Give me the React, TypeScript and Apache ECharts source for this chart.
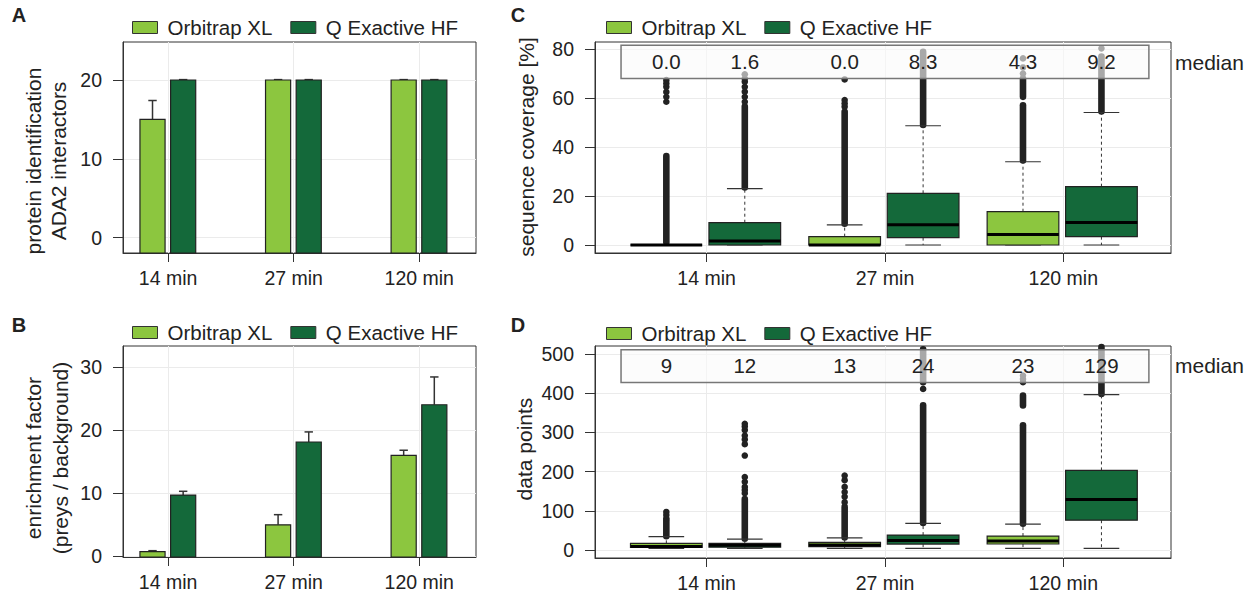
import React, { useEffect, useRef } from 'react';
import * as echarts from 'echarts';

// ---------------- data ----------------
const categories = ['14 min', '27 min', '120 min'];
const instruments = ['Orbitrap XL', 'Q Exactive HF'];
const instrumentColors = ['#8cc63f', '#14693a'];

// Panel A: protein identification of ADA2 interactors (mean, upper error bar)
const idOrbitrap = [15, 20, 20];
const idOrbitrapErr = [17.4, 20.05, 20.05];
const idQExactive = [20, 20, 20];
const idQExactiveErr = [20.05, 20.05, 20.05];

// Panel B: enrichment factor (mean, upper error bar)
const efOrbitrap = [0.75, 5.0, 16.0];
const efOrbitrapErr = [0.9, 6.6, 16.8];
const efQExactive = [9.7, 18.1, 24.0];
const efQExactiveErr = [10.3, 19.7, 28.4];

// Panel C: sequence coverage [%] box stats [lowWhisker, q1, median, q3, highWhisker]
const covOrbitrap = [
  [0, 0, 0, 0, 0],
  [0, 0, 0, 3.4, 8.2],
  [0, 0, 4.3, 13.6, 34],
];
const covQExactive = [
  [0, 0, 1.6, 9.1, 23],
  [0, 3.0, 8.3, 21.1, 48.7],
  [0, 3.4, 9.2, 23.8, 54.1],
];
// dense outlier streaks [from, to] and single outliers
const covOrbitrapRuns = [[[1, 36.3]], [[8.7, 54.4]], [[34.5, 57.1], [60.5, 68]]];
const covOrbitrapPoints = [[58.5, 60.5, 62.5, 64.6, 66, 67.3], [56.5, 57.8, 59.2, 67.6], [70, 72.5, 76.2]];
const covQExactiveRuns = [[[23.5, 56.5]], [[49, 78.9]], [[54.5, 77]]];
const covQExactivePoints = [[58.5, 60.5, 62.6, 64.6, 66.7, 68, 69.7], [], [80.3]];

// Panel D: data points box stats [lowWhisker, q1, median, q3, highWhisker]
const dpOrbitrap = [
  [4, 6.8, 9, 17, 34],
  [4, 8.5, 13, 19.6, 31],
  [4.2, 15.3, 23, 35.6, 66],
];
const dpQExactive = [
  [4, 7, 12, 17, 28],
  [4, 15, 24, 38, 68],
  [4.2, 76, 129, 203, 396.6],
];
const dpOrbitrapRuns = [[[35, 76]], [[32, 110]], [[67, 318], [368.6, 394]]];
const dpOrbitrapPoints = [[81, 89, 97], [122, 136, 148, 161, 178, 190], [428, 436, 445]];
const dpQExactiveRuns = [[[29, 130]], [[69, 369], [428, 512]], [[398, 518]]];
const dpQExactivePoints = [[145, 153, 161, 174, 186, 241, 270, 282, 292, 306, 315, 322], [411], []];

// ---------------- styling ----------------
const FONT = '"Liberation Sans", Arial, Helvetica, sans-serif';
const TEXT = '#222';
const GRIDLINE = '#ebebeb';

const BAR_OFFSETS = [-0.124, 0.12];
const BAR_WIDTH = 0.2;
const ERR_CAP = 0.067;
const BOX_OFFSETS = [-0.226, 0.214];
const BOX_WIDTH = 0.402;
const BOX_CAP = 0.2;

function xAxis(gridIndex: number, min: number, max: number) {
  return {
    type: 'value', gridIndex, min, max, position: 'bottom',
    axisLine: { show: true, onZero: false, lineStyle: { color: '#333', width: 1 } },
    axisTick: { show: true, length: 9, customValues: [1, 2, 3], lineStyle: { color: '#333', width: 1 } },
    axisLabel: {
      customValues: [1, 2, 3],
      formatter: (v: number) => categories[Math.round(v) - 1] ?? '',
      margin: 15, fontSize: 19.5, color: TEXT, fontFamily: FONT,
    },
    splitLine: { show: true, lineStyle: { color: GRIDLINE, width: 1 } },
  };
}

function yAxis(gridIndex: number, min: number, max: number, ticks: number[]) {
  return {
    type: 'value', gridIndex, min, max, position: 'left',
    axisLine: { show: true, onZero: false, lineStyle: { color: '#333', width: 1 } },
    axisTick: { show: true, length: 10, customValues: ticks, lineStyle: { color: '#333', width: 1 } },
    axisLabel: { customValues: ticks, margin: 21, fontSize: 19.5, color: TEXT, fontFamily: FONT },
    splitLine: { show: true, lineStyle: { color: GRIDLINE, width: 1 } },
  };
}

function barSeries(k: number, values: number[], errs: number[], axis: number) {
  const color = instrumentColors[k];
  return {
    type: 'custom', name: instruments[k], xAxisIndex: axis, yAxisIndex: axis, z: 3,
    itemStyle: { color, borderColor: '#222', borderWidth: 1 },
    data: values.map((v, i) => [i + 1, v, errs[i]]),
    renderItem: (params: any, api: any) => {
      const x = api.value(0) + BAR_OFFSETS[k];
      const top = api.coord([x, api.value(1)]);
      const err = api.coord([x, api.value(2)]);
      const cs = params.coordSys;
      const bottom = cs.y + cs.height;
      const half = api.size([BAR_WIDTH, 0])[0] / 2;
      const capHalf = api.size([ERR_CAP, 0])[0] / 2;
      const ls = { stroke: '#333', lineWidth: 1.5 };
      return {
        type: 'group',
        children: [
          { type: 'line', shape: { x1: top[0], y1: top[1], x2: top[0], y2: err[1] }, style: ls },
          { type: 'line', shape: { x1: top[0] - capHalf, y1: err[1], x2: top[0] + capHalf, y2: err[1] }, style: ls },
          { type: 'rect', shape: { x: top[0] - half, y: top[1], width: 2 * half, height: bottom - top[1] },
            style: { fill: color, stroke: '#222', lineWidth: 1.2 } },
        ],
      };
    },
  };
}

function boxSeries(k: number, stats: number[][], axis: number) {
  const color = instrumentColors[k];
  return {
    type: 'custom', name: instruments[k], xAxisIndex: axis, yAxisIndex: axis, z: 3,
    itemStyle: { color, borderColor: '#222', borderWidth: 1 },
    data: stats.map((s, i) => [i + 1, ...s]),
    renderItem: (params: any, api: any) => {
      const x = api.value(0) + BOX_OFFSETS[k];
      const lo = api.coord([x, api.value(1)]);
      const q1 = api.coord([x, api.value(2)]);
      const med = api.coord([x, api.value(3)]);
      const q3 = api.coord([x, api.value(4)]);
      const hi = api.coord([x, api.value(5)]);
      const cx = med[0];
      const half = api.size([BOX_WIDTH, 0])[0] / 2;
      const capHalf = api.size([BOX_CAP, 0])[0] / 2;
      const wl = { stroke: '#333', lineWidth: 1, lineDash: [3, 3] };
      const cap = { stroke: '#333', lineWidth: 1.2 };
      return {
        type: 'group',
        children: [
          { type: 'line', shape: { x1: cx, y1: q3[1], x2: cx, y2: hi[1] }, style: wl },
          { type: 'line', shape: { x1: cx, y1: q1[1], x2: cx, y2: lo[1] }, style: wl },
          { type: 'line', shape: { x1: cx - capHalf, y1: hi[1], x2: cx + capHalf, y2: hi[1] }, style: cap },
          { type: 'line', shape: { x1: cx - capHalf, y1: lo[1], x2: cx + capHalf, y2: lo[1] }, style: cap },
          { type: 'rect', shape: { x: cx - half, y: q3[1], width: 2 * half, height: q1[1] - q3[1] },
            style: { fill: color, stroke: '#222', lineWidth: 1.2 } },
          { type: 'line', shape: { x1: cx - half, y1: med[1], x2: cx + half, y2: med[1] }, style: { stroke: '#000', lineWidth: 3 } },
        ],
      };
    },
  };
}

function outlierSeries(k: number, runs: number[][][], points: number[][], axis: number) {
  const data: any[] = [];
  runs.forEach((rs, i) => rs.forEach((r) => data.push([i + 1, r[0], r[1]])));
  points.forEach((ps, i) => ps.forEach((p) => data.push([i + 1, p, p])));
  return {
    type: 'custom', name: instruments[k] + ' outliers', xAxisIndex: axis, yAxisIndex: axis, z: 2,
    data,
    renderItem: (params: any, api: any) => {
      const x = api.value(0) + BOX_OFFSETS[k];
      const a = api.coord([x, api.value(1)]);
      const b = api.coord([x, api.value(2)]);
      if (api.value(1) === api.value(2)) {
        return { type: 'circle', shape: { cx: a[0], cy: a[1], r: 3.3 }, style: { fill: '#222' } };
      }
      return {
        type: 'line', shape: { x1: a[0], y1: a[1], x2: b[0], y2: b[1] },
        style: { stroke: '#222', lineWidth: 6.6, lineCap: 'round' },
      };
    },
  };
}

function medianPanelSeries(axis: number, x0: number, x1: number, y0: number, y1: number) {
  return {
    type: 'custom', name: 'median panel', xAxisIndex: axis, yAxisIndex: axis, z: 5,
    data: [[x0, y0, x1, y1]],
    renderItem: (params: any, api: any) => {
      const p0 = api.coord([api.value(0), api.value(3)]);
      const p1 = api.coord([api.value(2), api.value(1)]);
      return {
        type: 'rect',
        shape: { x: p0[0], y: p0[1], width: p1[0] - p0[0], height: p1[1] - p0[1] },
        style: { fill: 'rgba(250,250,250,0.62)', stroke: '#777', lineWidth: 1.5 },
      };
    },
  };
}

function medianLabelSeries(axis: number, statsByInstrument: number[][][], labelY: number, fmt: (v: number) => string) {
  const data: any[] = [];
  statsByInstrument.forEach((stats, k) => stats.forEach((s, i) => data.push([i + 1, s[2], k])));
  return {
    type: 'custom', name: 'median labels', xAxisIndex: axis, yAxisIndex: axis, z: 6,
    data,
    renderItem: (params: any, api: any) => {
      const k = api.value(2);
      const p = api.coord([api.value(0) + BOX_OFFSETS[k], labelY]);
      return {
        type: 'text',
        style: {
          text: fmt(api.value(1)), x: p[0], y: p[1],
          align: 'center', verticalAlign: 'middle', textAlign: 'center', textVerticalAlign: 'middle',
          fontSize: 20.5, fontFamily: FONT, fill: TEXT,
        },
      };
    },
  };
}

function legend(left: number, top: number) {
  return {
    left, top, orient: 'horizontal', icon: 'rect', itemWidth: 25, itemHeight: 12, itemGap: 18,
    selectedMode: false, data: instruments,
    itemStyle: { borderColor: '#333', borderWidth: 1 },
    textStyle: { fontSize: 20.5, color: TEXT, fontFamily: FONT, padding: [0, 0, 0, 5] },
  };
}

function textEl(text: string, x: number, y: number, size: number, opts: any = {}) {
  return {
    type: 'text', x, y, rotation: opts.rotation ?? 0,
    style: {
      text, x: 0, y: 0, fontSize: size, fontFamily: FONT, fontWeight: opts.bold ? 'bold' : 'normal', fill: TEXT,
      align: opts.align ?? 'center', verticalAlign: 'middle',
      textAlign: opts.align ?? 'center', textVerticalAlign: 'middle',
      lineHeight: opts.lineHeight ?? size * 1.2,
    },
  };
}

function buildOption() {
  const gridStyle = { show: true, borderColor: '#333', borderWidth: 1, backgroundColor: 'transparent' };
  return {
    animation: false,
    backgroundColor: '#fff',
    textStyle: { fontFamily: FONT },
    grid: [
      { ...gridStyle, left: 123, top: 42, width: 353, height: 211 },
      { ...gridStyle, left: 123, top: 346, width: 353, height: 211 },
      { ...gridStyle, left: 595, top: 42, width: 576, height: 211 },
      { ...gridStyle, left: 595, top: 346, width: 576, height: 212 },
    ],
    xAxis: [xAxis(0, 0.641, 3.452), xAxis(1, 0.641, 3.452), xAxis(2, 0.374, 3.604), xAxis(3, 0.374, 3.604)],
    yAxis: [
      yAxis(0, -1.94, 24.82, [0, 10, 20]),
      yAxis(1, -0.1, 33.3, [0, 10, 20, 30]),
      yAxis(2, -3.27, 82.9, [0, 20, 40, 60, 80]),
      yAxis(3, -20.4, 520.4, [0, 100, 200, 300, 400, 500]),
    ],
    legend: [legend(127, 12), legend(127, 317), legend(601, 12), legend(601, 318)],
    series: [
      barSeries(0, idOrbitrap, idOrbitrapErr, 0),
      barSeries(1, idQExactive, idQExactiveErr, 0),
      barSeries(0, efOrbitrap, efOrbitrapErr, 1),
      barSeries(1, efQExactive, efQExactiveErr, 1),
      outlierSeries(0, covOrbitrapRuns, covOrbitrapPoints, 2),
      outlierSeries(1, covQExactiveRuns, covQExactivePoints, 2),
      boxSeries(0, covOrbitrap, 2),
      boxSeries(1, covQExactive, 2),
      medianPanelSeries(2, 0.52, 3.48, 68, 81.6),
      medianLabelSeries(2, [covOrbitrap, covQExactive], 74.8, (v) => v.toFixed(1)),
      outlierSeries(0, dpOrbitrapRuns, dpOrbitrapPoints, 3),
      outlierSeries(1, dpQExactiveRuns, dpQExactivePoints, 3),
      boxSeries(0, dpOrbitrap, 3),
      boxSeries(1, dpQExactive, 3),
      medianPanelSeries(3, 0.52, 3.48, 427, 511),
      medianLabelSeries(3, [dpOrbitrap, dpQExactive], 471, (v) => String(Math.round(v))),
    ],
    graphic: [
      textEl('A', 19, 15, 20, { bold: true }),
      textEl('B', 19, 325, 20, { bold: true }),
      textEl('C', 518, 15, 20, { bold: true }),
      textEl('D', 518, 325, 20, { bold: true }),
      textEl('protein identification\nADA2 interactors', 45.7, 161, 21, { rotation: Math.PI / 2, lineHeight: 25 }),
      textEl('enrichment factor\n(preys / background)', 46.7, 458, 21, { rotation: Math.PI / 2, lineHeight: 27 }),
      textEl('sequence coverage [%]', 526.8, 147, 21, { rotation: Math.PI / 2 }),
      textEl('data points', 524.3, 449, 21, { rotation: Math.PI / 2 }),
      textEl('median', 1175, 62, 21, { align: 'left' }),
      textEl('median', 1175, 365, 21, { align: 'left' }),
    ],
  };
}

export default function App() {
  const ref = useRef<HTMLDivElement>(null);
  useEffect(() => {
    const chart = echarts.init(ref.current as HTMLDivElement, null, { renderer: 'svg' });
    chart.setOption(buildOption() as any);
    return () => chart.dispose();
  }, []);
  return (
    <div
      ref={ref}
      style={{ position: 'absolute', left: 0, top: 0, width: 1253, height: 596, background: '#fff' }}
    />
  );
}
